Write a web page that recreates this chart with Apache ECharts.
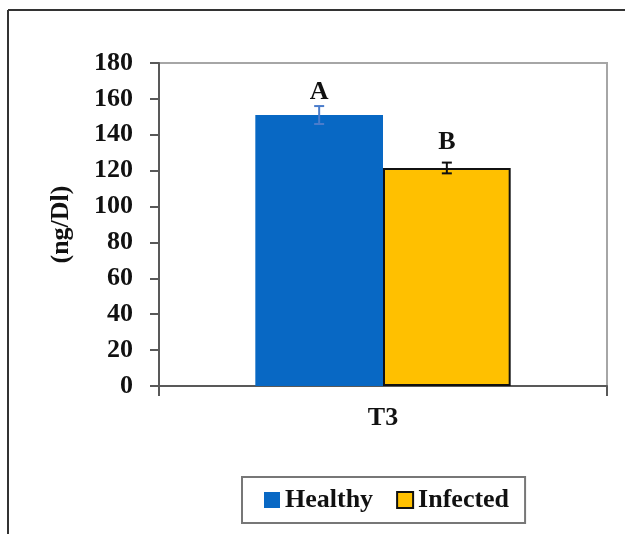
<!DOCTYPE html>
<html>
<head>
<meta charset="utf-8">
<script src="https://cdn.jsdelivr.net/npm/echarts@6/dist/echarts.min.js"></script>
<style>
html,body{margin:0;padding:0;background:#fff;}
#chart{width:625px;height:534px;}
</style>
</head>
<body>
<div id="chart"></div>
<script>
const categories = ['T3'];
const seriesNames = ['Healthy', 'Infected'];
const healthyValues = [151];
const infectedValues = [121.5];
const healthyErrors = [5];
const infectedErrors = [3];
const letterLabels = [['A'], ['B']];
const yTicks = [0, 20, 40, 60, 80, 100, 120, 140, 160, 180];

const FONT = "'Liberation Serif', 'Times New Roman', serif";
const colors = ['#0868C4', '#FFC000'];
const errColors = ['#4A7CCB', '#111111'];
const BAR_FRAC = 0.57; // group width fraction of category

const chart = echarts.init(document.getElementById('chart'));

function errorSeries(idx, values, errors) {
  return {
    type: 'custom',
    name: seriesNames[idx] + ' err',
    silent: true,
    z: 5,
    data: values.map((v, i) => [i, v, errors[i]]),
    renderItem: function (params, api) {
      const ci = api.value(0), v = api.value(1), e = api.value(2);
      const catW = api.size([1, 0])[0];
      const barW = catW * BAR_FRAC / 2;
      const off = (idx === 0 ? -0.5 : 0.5) * barW;
      const top = api.coord([ci, v + e]);
      const bot = api.coord([ci, v - e]);
      const x = top[0] + off;
      const cap = 5;
      const st = { stroke: errColors[idx], lineWidth: 2 };
      return {
        type: 'group',
        children: [
          { type: 'line', shape: { x1: x, y1: top[1], x2: x, y2: bot[1] }, style: st },
          { type: 'line', shape: { x1: x - cap, y1: top[1], x2: x + cap, y2: top[1] }, style: st },
          { type: 'line', shape: { x1: x - cap, y1: bot[1], x2: x + cap, y2: bot[1] }, style: st }
        ]
      };
    }
  };
}

function barSeries(idx, values) {
  return {
    name: seriesNames[idx],
    type: 'bar',
    data: values,
    barGap: '0%',
    barCategoryGap: '43%',
    itemStyle: idx === 0
      ? { color: colors[0], borderColor: colors[0], borderWidth: 0 }
      : { color: colors[1], borderColor: '#111', borderWidth: 2 },
    label: {
      show: true,
      position: 'top',
      distance: idx === 0 ? 10 : 13,
      formatter: (p) => letterLabels[idx][p.dataIndex],
      fontFamily: FONT, fontWeight: 'bold', fontSize: 26, color: '#111'
    }
  };
}

chart.setOption({
  animation: false,
  backgroundColor: '#fff',
  grid: { left: 159, top: 63, right: 18, bottom: 148, show: true, borderColor: '#A6A6A6', borderWidth: 2 },
  legend: {
    data: [
      { name: 'Healthy', itemStyle: { borderWidth: 0 } },
      { name: 'Infected', itemStyle: { borderColor: '#111', borderWidth: 2 } }
    ],
    left: 242, top: 477,
    icon: 'rect', itemWidth: 16, itemHeight: 16, itemGap: 23,
    padding: [10, 16, 10, 22],
    borderColor: '#777', borderWidth: 2,
    textStyle: { fontFamily: FONT, fontWeight: 'bold', fontSize: 26, color: '#111', padding: [0, 0, 0, 0] }
  },
  xAxis: {
    type: 'category',
    data: categories,
    axisLine: { lineStyle: { color: '#595959', width: 2 } },
    axisTick: { show: true, length: 10, lineStyle: { color: '#595959', width: 2 } },
    axisLabel: { margin: 19, fontFamily: FONT, fontWeight: 'bold', fontSize: 26, color: '#111' }
  },
  yAxis: {
    type: 'value',
    min: yTicks[0], max: yTicks[yTicks.length - 1], interval: yTicks[1] - yTicks[0],
    name: '(ng/Dl)', nameLocation: 'middle', nameGap: 85,
    nameTextStyle: { fontFamily: FONT, fontWeight: 'bold', fontSize: 26, color: '#111' },
    axisLine: { show: true, lineStyle: { color: '#595959', width: 2 } },
    axisTick: { show: true, length: 9, lineStyle: { color: '#595959', width: 2 } },
    splitLine: { show: false },
    axisLabel: { margin: 26, fontFamily: FONT, fontWeight: 'bold', fontSize: 26, color: '#111' }
  },
  graphic: [
    { type: 'line', shape: { x1: 8, y1: 10, x2: 625, y2: 10 }, style: { stroke: '#333', lineWidth: 2 } },
    { type: 'line', shape: { x1: 8, y1: 10, x2: 8, y2: 534 }, style: { stroke: '#333', lineWidth: 2 } }
  ],
  series: [
    barSeries(0, healthyValues),
    barSeries(1, infectedValues),
    errorSeries(0, healthyValues, healthyErrors),
    errorSeries(1, infectedValues, infectedErrors)
  ]
});
</script>
</body>
</html>
